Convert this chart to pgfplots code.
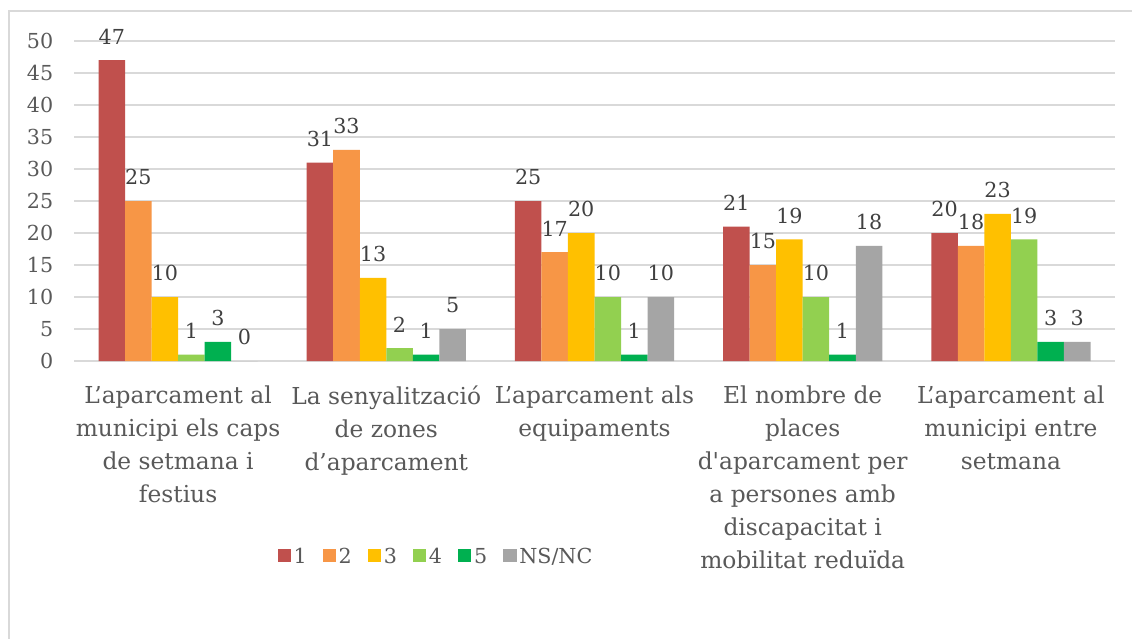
\documentclass[border=0pt]{standalone}
\usepackage{fontspec}
\setmainfont{DejaVu Serif}
\usepackage{pgfplots}
\pgfplotsset{compat=1.18}
\definecolor{c1}{HTML}{C0504D}
\definecolor{c2}{HTML}{F79646}
\definecolor{c3}{HTML}{FFC000}
\definecolor{c4}{HTML}{92D050}
\definecolor{c5}{HTML}{00B050}
\definecolor{c6}{HTML}{A5A5A5}
\definecolor{txt}{HTML}{595959}
\definecolor{lbl}{HTML}{404040}
\definecolor{grd}{HTML}{D9D9D9}
\newcommand{\lf}{\fontsize{15.5pt}{24.75pt}\selectfont}
\newcommand{\cf}{\fontsize{17.5pt}{24.75pt}\selectfont}
\begin{document}
\begin{tikzpicture}
\useasboundingbox (0pt,0pt) rectangle (849pt,-479.25pt);
\fill[white] (0pt,0pt) rectangle (849pt,-479.25pt);
\draw[grd, line width=1.2pt] (6.75pt,-479.25pt) -- (6.75pt,-8.25pt) -- (849pt,-8.25pt);
\begin{axis}[
  at={(55.5pt,-270.75pt)}, anchor=south west,
  scale only axis, width=780.75pt, height=240pt,
  ybar=0pt, bar width=19.9pt,
  xmin=-0.5, xmax=4.5, ymin=0, ymax=50,
  ytick={0,5,...,50},
  xtick={0,1,2,3,4},
  xticklabels={
    {L’aparcament al\\municipi els caps\\de setmana i\\festius},
    {La senyalització\\de zones\\d’aparcament},
    {L’aparcament als\\equipaments},
    {El nombre de\\places\\d\textquotesingle aparcament per\\a persones amb\\discapacitat i\\mobilitat reduïda},
    {L’aparcament al\\municipi entre\\setmana}},
  /pgf/number format/assume math mode=true,
  ymajorgrids, major grid style={grd, line width=1.1pt},
  axis line style={draw=none}, tick style={draw=none},
  yticklabel style={font=\lf, text=txt, xshift=-12pt},
  xticklabel style={font=\cf, text=txt, align=center, yshift=-11pt},
  nodes near coords,
  every node near coord/.append style={font=\lf, text=lbl, yshift=8.5pt},
  legend style={at={(0.348,-0.6125)}, anchor=center, draw=none, fill=none,
    legend columns=-1, font=\lf, text=txt,
    /tikz/every even column/.append style={column sep=10pt}},
  legend image code/.code={\fill[#1] (0pt,-4pt) rectangle (10pt,6pt);},
]
\addplot[fill=c1, draw=none] coordinates {(0,47) (1,31) (2,25) (3,21) (4,20)};
\addplot[fill=c2, draw=none] coordinates {(0,25) (1,33) (2,17) (3,15) (4,18)};
\addplot[fill=c3, draw=none] coordinates {(0,10) (1,13) (2,20) (3,19) (4,23)};
\addplot[fill=c4, draw=none] coordinates {(0,1) (1,2) (2,10) (3,10) (4,19)};
\addplot[fill=c5, draw=none] coordinates {(0,3) (1,1) (2,1) (3,1) (4,3)};
\addplot[fill=c6, draw=none] coordinates {(0,0) (1,5) (2,10) (3,18) (4,3)};
\legend{1,2,3,4,5,NS/NC}
\end{axis}
\end{tikzpicture}
\end{document}
